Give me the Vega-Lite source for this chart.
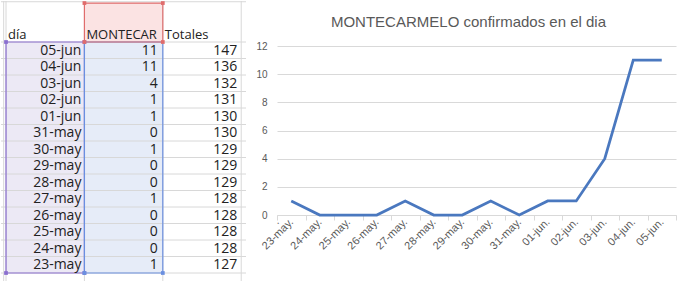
{
  "$schema": "https://vega.github.io/schema/vega-lite/v6.json",
  "padding": 0,
  "spacing": 8,
  "background": "white",
  "config": {"view": {"stroke": null}},
  "datasets": {
    "casos": [
      {"fila": 0, "dia": "05-jun", "montecarmelo": 11, "totales": 147},
      {"fila": 1, "dia": "04-jun", "montecarmelo": 11, "totales": 136},
      {"fila": 2, "dia": "03-jun", "montecarmelo": 4, "totales": 132},
      {"fila": 3, "dia": "02-jun", "montecarmelo": 1, "totales": 131},
      {"fila": 4, "dia": "01-jun", "montecarmelo": 1, "totales": 130},
      {"fila": 5, "dia": "31-may", "montecarmelo": 0, "totales": 130},
      {"fila": 6, "dia": "30-may", "montecarmelo": 1, "totales": 129},
      {"fila": 7, "dia": "29-may", "montecarmelo": 0, "totales": 129},
      {"fila": 8, "dia": "28-may", "montecarmelo": 0, "totales": 129},
      {"fila": 9, "dia": "27-may", "montecarmelo": 1, "totales": 128},
      {"fila": 10, "dia": "26-may", "montecarmelo": 0, "totales": 128},
      {"fila": 11, "dia": "25-may", "montecarmelo": 0, "totales": 128},
      {"fila": 12, "dia": "24-may", "montecarmelo": 0, "totales": 128},
      {"fila": 13, "dia": "23-may", "montecarmelo": 1, "totales": 127}
    ],
    "rangos": [
      {"rango": "día", "c0": 0, "c1": 1, "r0": 0, "r1": 14},
      {"rango": "MONTECARMELO", "c0": 1, "c1": 2, "r0": 0, "r1": 14},
      {"rango": "cabecera", "c0": 1, "c1": 2, "r0": -2.36, "r1": 0}
    ],
    "esquinas": [
      {"rango": "día", "c": 0, "r": 0}, {"rango": "día", "c": 1, "r": 0},
      {"rango": "día", "c": 0, "r": 14}, {"rango": "día", "c": 1, "r": 14},
      {"rango": "MONTECARMELO", "c": 1, "r": 14}, {"rango": "MONTECARMELO", "c": 2, "r": 14},
      {"rango": "cabecera", "c": 1, "r": -2.36}, {"rango": "cabecera", "c": 2, "r": -2.36},
      {"rango": "cabecera", "c": 1, "r": 0}, {"rango": "cabecera", "c": 2, "r": 0}
    ],
    "cabeceras": [
      {"texto": "día", "c": 0},
      {"texto": "MONTECAR", "c": 1},
      {"texto": "Totales", "c": 2}
    ],
    "lineas_h": [
      {"r": -2.44}, {"r": 0}, {"r": 1}, {"r": 2}, {"r": 3}, {"r": 4}, {"r": 5}, {"r": 6},
      {"r": 7}, {"r": 8}, {"r": 9}, {"r": 10}, {"r": 11}, {"r": 12}, {"r": 13}, {"r": 14}
    ],
    "lineas_v": [{"c": -0.03}, {"c": 0}, {"c": 1}, {"c": 2}, {"c": 3}]
  },
  "hconcat": [
    {
      "width": 245,
      "height": 281,
      "layer": [
        {
          "data": {"name": "rangos"},
          "mark": {"type": "rect", "strokeWidth": 0},
          "encoding": {
            "x": {"field": "c0", "type": "quantitative", "scale": {"domain": [-0.064, 3.061], "nice": false, "zero": false}, "axis": null},
            "x2": {"field": "c1"},
            "y": {"field": "r0", "type": "quantitative", "scale": {"domain": [-2.485, 14.545], "nice": false, "zero": false, "reverse": true}, "axis": null},
            "y2": {"field": "r1"},
            "fill": {"field": "rango", "type": "nominal", "scale": {"domain": ["día", "MONTECARMELO", "cabecera"], "range": ["#ECE9F5", "#E6ECF8", "#FBE3E3"]}, "legend": null}
          }
        },
        {
          "data": {"name": "lineas_h"},
          "mark": {"type": "rule", "color": "#D8D8D8", "strokeWidth": 1},
          "encoding": {"y": {"field": "r", "type": "quantitative"}}
        },
        {
          "data": {"name": "lineas_v"},
          "mark": {"type": "rule", "color": "#D8D8D8", "strokeWidth": 1},
          "encoding": {"x": {"field": "c", "type": "quantitative"}}
        },
        {
          "data": {"name": "rangos"},
          "mark": {"type": "rect", "fillOpacity": 0, "strokeWidth": 1.2},
          "encoding": {
            "x": {"field": "c0", "type": "quantitative"},
            "x2": {"field": "c1"},
            "y": {"field": "r0", "type": "quantitative"},
            "y2": {"field": "r1"},
            "stroke": {"field": "rango", "type": "nominal", "scale": {"domain": ["día", "MONTECARMELO", "cabecera"], "range": ["#8A6FCF", "#6A8FE0", "#E06C6C"]}, "legend": null}
          }
        },
        {
          "data": {"name": "esquinas"},
          "mark": {"type": "square", "size": 14, "opacity": 1, "filled": true},
          "encoding": {
            "x": {"field": "c", "type": "quantitative"},
            "y": {"field": "r", "type": "quantitative"},
            "color": {"field": "rango", "type": "nominal", "scale": {"domain": ["día", "MONTECARMELO", "cabecera"], "range": ["#8A6FCF", "#6A8FE0", "#E06C6C"]}, "legend": null}
          }
        },
        {
          "data": {"name": "cabeceras"},
          "mark": {"type": "text", "align": "left", "baseline": "alphabetic", "dx": 2, "dy": -3, "font": "Open Sans", "fontSize": 13, "color": "#222222"},
          "encoding": {
            "x": {"field": "c", "type": "quantitative"},
            "y": {"datum": 0, "type": "quantitative"},
            "text": {"field": "texto"}
          }
        },
        {
          "data": {"name": "casos"},
          "mark": {"type": "text", "align": "right", "baseline": "middle", "dx": -3, "dy": 8.5, "font": "Open Sans", "fontSize": 14, "color": "#222222"},
          "encoding": {
            "x": {"datum": 1, "type": "quantitative"},
            "y": {"field": "fila", "type": "quantitative"},
            "text": {"field": "dia"}
          }
        },
        {
          "data": {"name": "casos"},
          "mark": {"type": "text", "align": "right", "baseline": "middle", "dx": -5, "dy": 8.5, "font": "Open Sans", "fontSize": 14, "color": "#222222"},
          "encoding": {
            "x": {"datum": 2, "type": "quantitative"},
            "y": {"field": "fila", "type": "quantitative"},
            "text": {"field": "montecarmelo"}
          }
        },
        {
          "data": {"name": "casos"},
          "mark": {"type": "text", "align": "right", "baseline": "middle", "dx": -4, "dy": 8.5, "font": "Open Sans", "fontSize": 14, "color": "#222222"},
          "encoding": {
            "x": {"datum": 3, "type": "quantitative"},
            "y": {"field": "fila", "type": "quantitative"},
            "text": {"field": "totales"}
          }
        }
      ]
    },
    {
      "width": 399,
      "height": 214,
      "data": {"name": "casos"},
      "layer": [
        {
          "mark": {"type": "line", "color": "#4A78BF", "strokeWidth": 2.75, "strokeJoin": "miter"},
          "encoding": {
            "x": {
              "field": "dia",
              "type": "ordinal",
              "bandPosition": 0.5,
              "sort": ["23-may", "24-may", "25-may", "26-may", "27-may", "28-may", "29-may", "30-may", "31-may", "01-jun", "02-jun", "03-jun", "04-jun", "05-jun"],
              "scale": {"type": "band", "paddingInner": 0, "paddingOuter": 0},
              "axis": {
                "title": null,
                "labelExpr": "datum.label + '.'",
                "labelAngle": -45,
                "labelAlign": "right",
                "labelBaseline": "middle",
                "labelPadding": 0,
                "labelFont": "Liberation Sans",
                "labelFontSize": 11,
                "labelColor": "#595959",
                "domainColor": "#D9D9D9",
                "tickColor": "#D9D9D9",
                "tickSize": 5,
                "tickBand": "extent",
                "grid": false
              }
            },
            "y": {
              "field": "montecarmelo",
              "type": "quantitative",
              "scale": {"domain": [0, 15.2], "nice": false, "zero": true},
              "axis": {
                "title": null,
                "values": [0, 2, 4, 6, 8, 10, 12],
                "labelOverlap": false,
                "domain": false,
                "ticks": false,
                "labelPadding": 10,
                "labelFont": "Liberation Sans",
                "labelFontSize": 10,
                "labelColor": "#595959",
                "gridColor": "#D9D9D9",
                "grid": true
              }
            }
          }
        },
        {
          "data": {"values": [{"titulo": "MONTECARMELO confirmados en el dia"}]},
          "mark": {"type": "text", "font": "Liberation Sans", "fontSize": 15, "color": "#595959", "align": "center", "baseline": "alphabetic", "dx": -8},
          "encoding": {
            "x": {"datum": "30-may", "bandPosition": 0, "type": "ordinal"},
            "y": {
              "datum": 13.37,
              "type": "quantitative",
              "axis": {
                "title": null,
                "values": [0, 2, 4, 6, 8, 10, 12],
                "labelOverlap": false,
                "domain": false,
                "ticks": false,
                "labelPadding": 10,
                "labelFont": "Liberation Sans",
                "labelFontSize": 10,
                "labelColor": "#595959",
                "gridColor": "#D9D9D9",
                "grid": true
              }
            },
            "text": {"field": "titulo"}
          }
        }
      ]
    }
  ]
}
